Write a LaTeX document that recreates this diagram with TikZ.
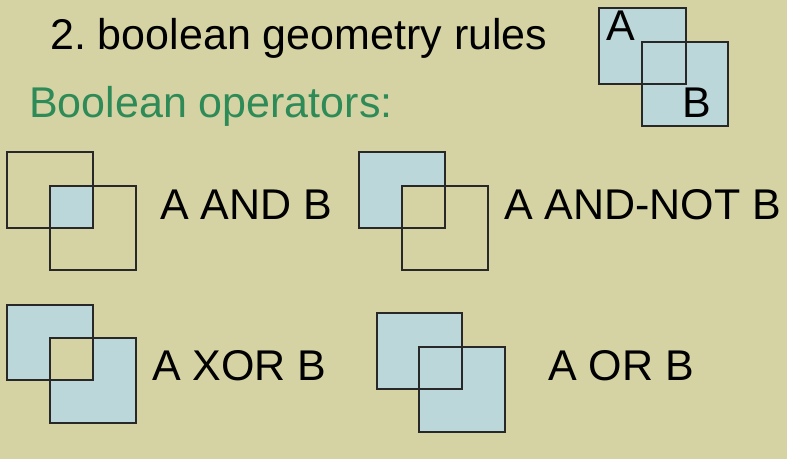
\documentclass[tikz,border=0pt]{standalone}
\usepackage{fontspec}
\setmainfont{Liberation Sans}
\definecolor{bg}{RGB}{213,211,163}
\definecolor{sq}{RGB}{187,215,217}
\definecolor{grn}{RGB}{46,139,87}
\definecolor{edge}{RGB}{40,40,40}
\frenchspacing
\begin{document}
\begin{tikzpicture}[x=1pt,y=-1pt,
  lbl/.style={anchor=base west,inner sep=0pt,font=\fontsize{43}{48}\selectfont},
  sqline/.style={draw=edge,line width=1.4pt},
  sqfill/.style={fill=sq}]
\fill[bg] (0,0) rectangle (787,459);
\useasboundingbox (0,0) rectangle (787,459);
% title
\node[lbl] (title) at (50,49) {2. boolean geometry rules};
\node[lbl,text=grn] (ops) at (29,117) {Boolean operators:};
% legend
\fill[sqfill] (599,8) rectangle (686,84);
\fill[sqfill] (642,42) rectangle (728,126);
\draw[sqline] (599,8) rectangle (686,84);
\draw[sqline] (642,42) rectangle (728,126);
\node[lbl] (la) at (606,40) {A};
\node[lbl] (lb) at (682,117) {B};
% AND
\fill[sqfill] (50,186) rectangle (93,228);
\draw[sqline] (7,152) rectangle (93,228);
\draw[sqline] (50,186) rectangle (136,270);
\node[lbl] (and) at (160,219) {A AND B};
% AND-NOT
\fill[sqfill,even odd rule] (359,152) rectangle (445,228) (402,186) rectangle (445,228);
\draw[sqline] (359,152) rectangle (445,228);
\draw[sqline] (402,186) rectangle (488,270);
\node[lbl] (andnot) at (504,219) {A AND-NOT B};
% XOR
\fill[sqfill,even odd rule] (7,305) rectangle (93,380) (50,338) rectangle (136,423);
\draw[sqline] (7,305) rectangle (93,380);
\draw[sqline] (50,338) rectangle (136,423);
\node[lbl] (xor) at (152,380) {A XOR B};
% OR
\fill[sqfill] (377,313) rectangle (462,389);
\fill[sqfill] (419,347) rectangle (505,432);
\draw[sqline] (377,313) rectangle (462,389);
\draw[sqline] (419,347) rectangle (505,432);
\node[lbl] (or) at (548,380) {A OR B};
\end{tikzpicture}
\end{document}
